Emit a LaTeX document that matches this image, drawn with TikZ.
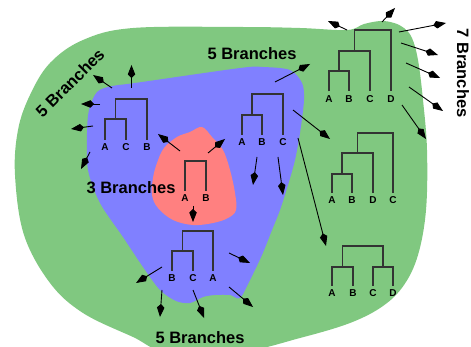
\documentclass[tikz,border=0pt]{standalone}
\usepackage{fontspec}
\setmainfont{Liberation Sans}
\usetikzlibrary{arrows.meta}
\definecolor{zonegreen}{RGB}{128,200,128}
\definecolor{zoneblue}{RGB}{128,128,255}
\definecolor{zonered}{RGB}{255,128,128}
\tikzset{
  zone/.style={draw=none},
  branch/.style={line width=0.9pt, -{Kite[length=13pt,width=7.5pt,inset=3.5pt]}},
  tree/.style={line width=1.1pt, draw=black!80},
  leaf/.style={font=\bfseries\fontsize{10}{10}\selectfont, inner xsep=1pt,
    inner ysep=4pt, text height=7pt, text depth=0pt},
  caption/.style={font=\bfseries\fontsize{16.5}{17}\selectfont, inner sep=0pt}
}
\begin{document}
\begin{tikzpicture}[x=1pt,y=-1pt]
\useasboundingbox (0,0) rectangle (471,347);
\clip (0,0) rectangle (471,347);

% nested search zones
\fill[zonegreen] plot[smooth cycle, tension=0.6] coordinates {
  (15,175) (18,130) (30,95) (50,63) (83,40) (133,28) (240,27) (300,28)
  (347,30) (364,24) (381,21) (394,23) (404,28) (412,38) (418,60) (423,100)
  (427,150) (426,210) (418,255) (404,285) (383,306) (350,323) (300,338)
  (240,352) (167,352) (133,337) (83,313) (50,283) (24,235)};
\fill[zoneblue] plot[smooth cycle, tension=0.5] coordinates {
  (97,92) (112,86) (135,83) (240,68) (263,67) (290,70) (302,83) (304,100)
  (300,133) (295,160) (288,185) (280,210) (272,230) (262,255) (250,280)
  (240,298) (230,295) (215,295) (203,297) (190,303) (176,301) (160,290)
  (143,267) (123,237) (100,203) (88,170) (87,133) (89,110)};
\fill[zonered] plot[smooth cycle, tension=0.6] coordinates {
  (202,127) (212,137) (223,150) (230,170) (235,193) (236,210) (228,218)
  (213,223) (193,225) (173,220) (158,208) (152,195) (153,178) (157,163)
  (164,148) (177,137) (190,132)};

% tree ((A,C),B)
\node[leaf] (t1a) at (105,147.5) {A};
\node[leaf] (t1c) at (126,147.5) {C};
\node[leaf] (t1b) at (147,147.5) {B};
\coordinate (t1x) at (115.5,119);
\coordinate (t1r) at (131.25,99);
\draw[tree] (t1a.north) |- (t1x) -| (t1c.north);
\draw[tree] (t1x) |- (t1r) -| (t1b.north);

% tree (A,B)
\node[leaf] (r1a) at (185,198.5) {A};
\node[leaf] (r1b) at (206,198.5) {B};
\coordinate (r1r) at (195.5,161);
\draw[tree] (r1a.north) |- (r1r) -| (r1b.north);

% tree ((B,C),A)
\node[leaf] (b3b) at (172,278.5) {B};
\node[leaf] (b3c) at (193,278.5) {C};
\node[leaf] (b3a) at (213,278.5) {A};
\coordinate (b3x) at (182.5,251);
\coordinate (b3r) at (197.75,231);
\draw[tree] (b3b.north) |- (b3x) -| (b3c.north);
\draw[tree] (b3x) |- (b3r) -| (b3a.north);

% tree ((A,B),C)
\node[leaf] (b2a) at (242,142.5) {A};
\node[leaf] (b2b) at (262,142.5) {B};
\node[leaf] (b2c) at (283,142.5) {C};
\coordinate (b2x) at (252,115);
\coordinate (b2r) at (267.5,94);
\draw[tree] (b2a.north) |- (b2x) -| (b2b.north);
\draw[tree] (b2x) |- (b2r) -| (b2c.north);

% tree (((A,B),C),D)
\node[leaf] (g1a) at (329,99) {A};
\node[leaf] (g1b) at (349,99) {B};
\node[leaf] (g1c) at (370,99) {C};
\node[leaf] (g1d) at (391,99) {D};
\coordinate (g1x) at (339,71);
\coordinate (g1y) at (354.5,51);
\coordinate (g1r) at (372.75,30);
\draw[tree] (g1a.north) |- (g1x) -| (g1b.north);
\draw[tree] (g1x) |- (g1y) -| (g1c.north);
\draw[tree] (g1y) |- (g1r) -| (g1d.north);

% tree (((A,B),D),C)
\node[leaf] (g2a) at (332,200.5) {A};
\node[leaf] (g2b) at (352,200.5) {B};
\node[leaf] (g2d) at (373,200.5) {D};
\node[leaf] (g2c) at (393,200.5) {C};
\coordinate (g2x) at (342,174);
\coordinate (g2y) at (357.5,153);
\coordinate (g2r) at (375.25,133);
\draw[tree] (g2a.north) |- (g2x) -| (g2b.north);
\draw[tree] (g2x) |- (g2y) -| (g2d.north);
\draw[tree] (g2y) |- (g2r) -| (g2c.north);

% tree ((A,B),(C,D))
\node[leaf] (g3a) at (332,293.5) {A};
\node[leaf] (g3b) at (353,293.5) {B};
\node[leaf] (g3c) at (373,293.5) {C};
\node[leaf] (g3d) at (393,293.5) {D};
\coordinate (g3x) at (342.5,267);
\coordinate (g3y) at (383,267);
\coordinate (g3r) at (362.75,246);
\draw[tree] (g3a.north) |- (g3x) -| (g3b.north);
\draw[tree] (g3c.north) |- (g3y) -| (g3d.north);
\draw[tree] (g3x) |- (g3r) -| (g3y);

% branch insertion points
\draw[branch] (131.5,88) -- (131.5,65);
\draw[branch] (112,88) -- (93,75);
\draw[branch] (100,104) -- (81,104);
\draw[branch] (93,126) -- (71,129);
\draw[branch] (90,152) -- (81,169);

\draw[branch] (180,151) -- (158,134);
\draw[branch] (208,153) -- (225,139);
\draw[branch] (193,206) -- (193,222);

\draw[branch] (162,267) -- (136,283);
\draw[branch] (162,290) -- (160,317);
\draw[branch] (193,290) -- (204,318);
\draw[branch] (229,253) -- (250,263);
\draw[branch] (229,287) -- (253,307);

\draw[branch] (275,82) -- (310,64);
\draw[branch] (293,110) -- (330,139);
\draw[branch] (298,138) -- (326,246);
\draw[branch] (257,157) -- (253,185);
\draw[branch] (278,157) -- (283,195);

\draw[branch] (347,30) -- (328,21);
\draw[branch] (382,22) -- (395,8);
\draw[branch] (399,32) -- (446,23);
\draw[branch] (401,43) -- (438,55);
\draw[branch] (406,63) -- (440,78);
\draw[branch] (409,87) -- (443,111);
\draw[branch] (402,105) -- (426,139);

% branch counts
\node[caption, rotate=45] (c5a) at (70,83) {5 Branches};
\node[caption] (c5b) at (252,54) {5 Branches};
\node[caption] (c3) at (131,188) {3 Branches};
\node[caption] (c5c) at (200,338) {5 Branches};
\node[caption, rotate=-90] (c7) at (463,73) {7 Branches};
\end{tikzpicture}
\end{document}
